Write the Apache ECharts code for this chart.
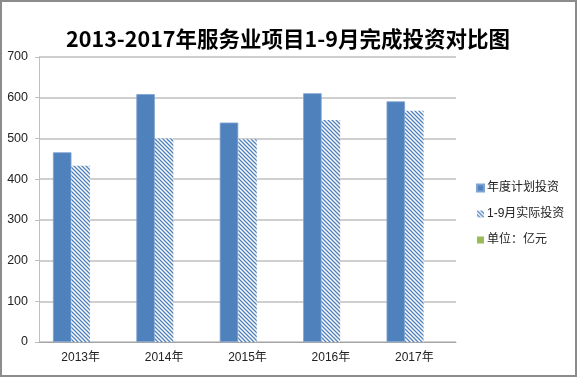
<!DOCTYPE html>
<html>
<head>
<meta charset="utf-8">
<script src="https://cdn.jsdelivr.net/npm/echarts@6/dist/echarts.min.js"></script>
<style>html,body{margin:0;padding:0;background:#fff;}#c{width:579px;height:380px;}</style>
</head>
<body>
<div id="c"></div>
<script>
const categories = ['2013年', '2014年', '2015年', '2016年', '2017年'];
const planned = [466, 609, 539, 611, 591];
const actual = [433, 500, 498, 545, 568];
const unitSeries = [null, null, null, null, null];
const seriesNames = ['年度计划投资', '1-9月实际投资', '单位：亿元'];
const yTicks = [0, 100, 200, 300, 400, 500, 600, 700];

function hatch() {
  const c = document.createElement('canvas');
  c.width = 4; c.height = 4;
  const g = c.getContext('2d');
  g.fillStyle = '#ffffff';
  g.fillRect(0, 0, 4, 4);
  g.strokeStyle = '#4F81BD';
  g.lineWidth = 1.3;
  g.beginPath();
  g.moveTo(-1, -1); g.lineTo(5, 5);
  g.moveTo(-1, 3); g.lineTo(1, 5);
  g.moveTo(3, -1); g.lineTo(5, 1);
  g.stroke();
  return c;
}

const chart = echarts.init(document.getElementById('c'), null, {renderer: 'canvas'});
const font = '"Liberation Sans", "Noto Sans CJK SC", sans-serif';
chart.setOption({
  animation: false,
  backgroundColor: '#fff',
  title: {
    text: '2013-2017年服务业项目1-9月完成投资对比图',
    left: 283, top: 23, textAlign: 'center',
    textStyle: {fontFamily: '"Liberation Sans Narrow", "Noto Sans CJK SC", sans-serif', fontSize: 21.5, fontWeight: 'bold', color: '#000'}
  },
  graphic: [{
    type: 'rect', shape: {x: 1, y: 1, width: 575, height: 375},
    style: {fill: 'none', stroke: '#8c8c8c', lineWidth: 2}, silent: true, z: 100
  }],
  legend: {
    orient: 'vertical', left: 471, top: 177,
    itemWidth: 7, itemHeight: 7, itemGap: 14,
    icon: 'rect',
    data: seriesNames,
    textStyle: {fontFamily: font, fontSize: 12, color: '#222', padding: [0, 0, 0, -2]}
  },
  grid: {left: 39, right: 123, top: 57, bottom: 38, containLabel: false},
  xAxis: {
    type: 'category', data: categories,
    axisLine: {lineStyle: {color: '#a6a6a6', width: 1}},
    axisTick: {show: false},
    axisLabel: {fontFamily: font, fontSize: 12, color: '#222', margin: 10}
  },
  yAxis: {
    type: 'value', min: yTicks[0], max: yTicks[yTicks.length - 1], interval: 100,
    axisLine: {show: true, lineStyle: {color: '#bfbfbf'}},
    axisTick: {show: true, length: 4, lineStyle: {color: '#bfbfbf'}},
    splitLine: {lineStyle: {color: '#bfbfbf', width: 1.5}},
    axisLabel: {fontFamily: font, fontSize: 12.5, color: '#222', margin: 11}
  },
  series: [
    {name: seriesNames[0], type: 'bar', data: planned, barWidth: 18.5, barGap: '0%',
     itemStyle: {color: '#4F81BD', borderColor: '#7fa3d1', borderWidth: 0.8}},
    {name: seriesNames[1], type: 'bar', data: actual, barWidth: 18.5, barGap: '0%',
     itemStyle: {color: {image: hatch(), repeat: 'repeat'}}},
    {name: seriesNames[2], type: 'bar', data: unitSeries, barWidth: 18.5, barGap: '0%',
     itemStyle: {color: '#9BBB59'}}
  ]
});
</script>
</body>
</html>
